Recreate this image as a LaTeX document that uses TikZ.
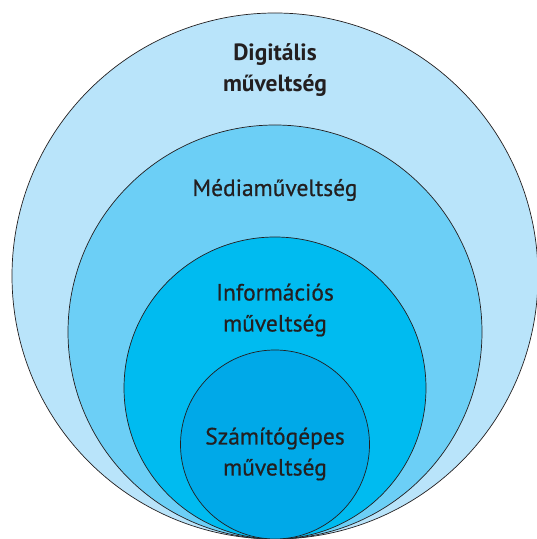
\documentclass[tikz,border=0pt]{standalone}
\usepackage{fontspec}
\setsansfont{PT Sans}
\newfontfamily\medsans[FakeBold=0.6]{PT Sans}

\definecolor{litDigital}{RGB}{185,228,250}
\definecolor{litMedia}{RGB}{108,207,246}
\definecolor{litInfo}{RGB}{0,187,240}
\definecolor{litComp}{RGB}{0,169,232}
\definecolor{litDark}{RGB}{35,31,32}

\begin{document}
\begin{tikzpicture}[x=1pt, y=1pt, font=\medsans\fontsize{23.5}{31}\selectfont, text=litDark,
  ring/.style={circle, draw=litDark, line width=0.7pt, inner sep=0pt, outer sep=0pt},
  lbl/.style={align=center, inner sep=0pt}]
\useasboundingbox (0,0) rectangle (537,539);

% nested circles, all touching at the bottom
\node[ring, fill=litDigital, minimum size=526] (digital) at (275,263)  {};
\node[ring, fill=litMedia,   minimum size=414] (media)   at (275,207)  {};
\node[ring, fill=litInfo,    minimum size=302] (info)    at (275,151)  {};
\node[ring, fill=litComp,    minimum size=189] (comp)    at (275,94.5) {};

\node[lbl, font=\sffamily\bfseries\fontsize{23.5}{31}\selectfont] (digitalLbl) at (275,469) {Digitális\\műveltség};
\node[lbl] (mediaLbl) at (275,349) {Médiaműveltség};
\node[lbl] (infoLbl)  at (275,229) {Információs\\műveltség};
\node[lbl] (compLbl)  at (275,85)  {Számítógépes\\műveltség};
\end{tikzpicture}
\end{document}
